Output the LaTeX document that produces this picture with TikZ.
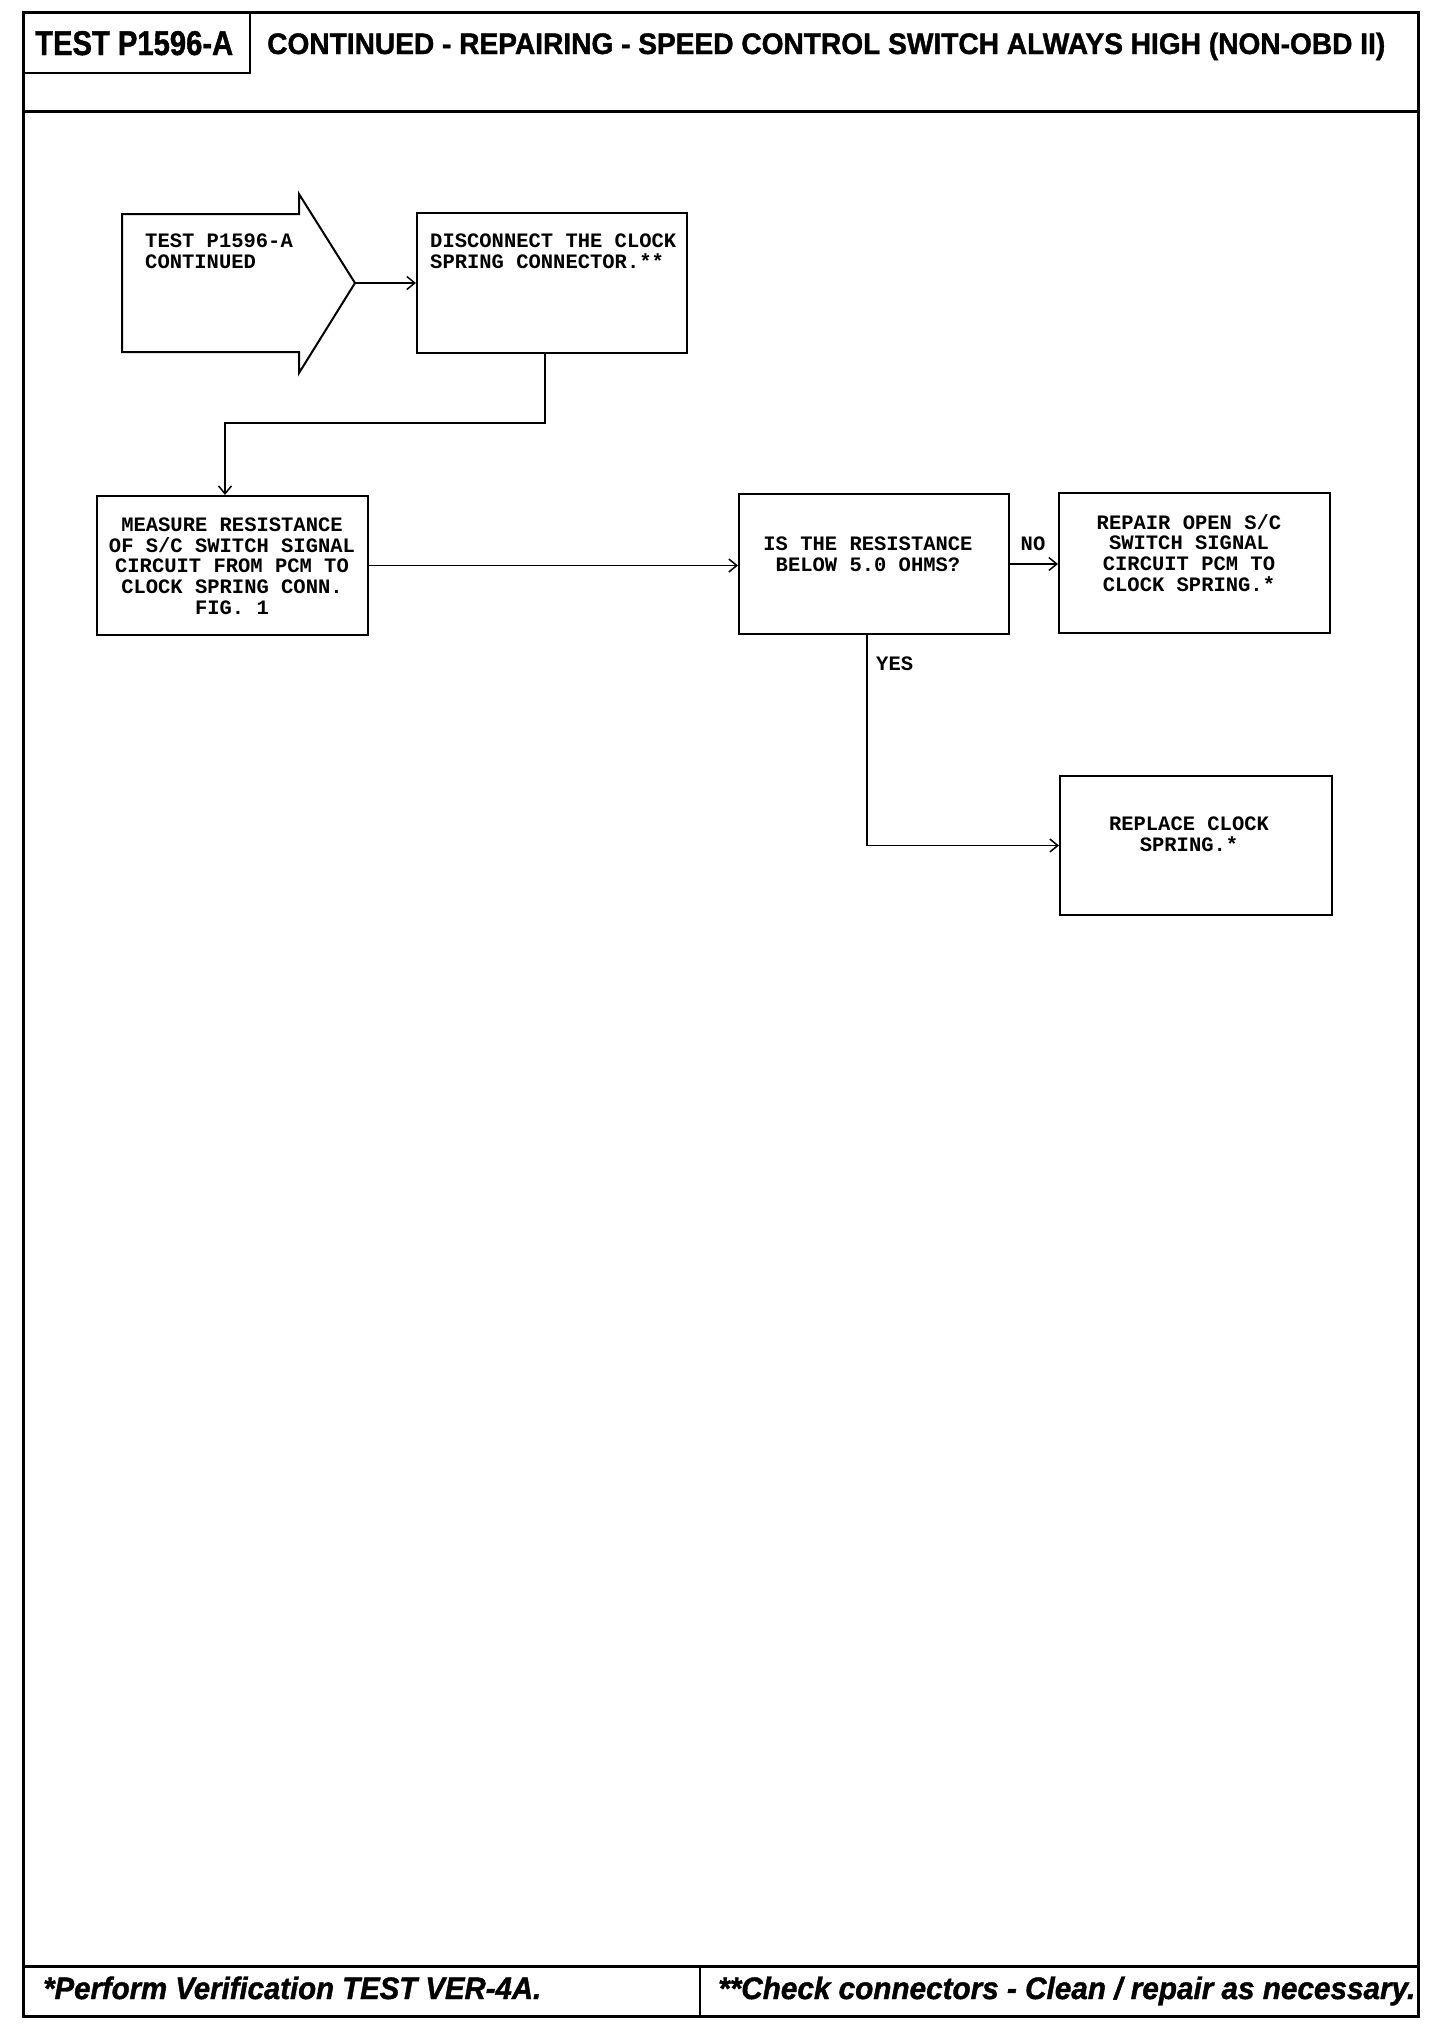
\documentclass[tikz,border=0pt]{standalone}
\usepackage{fontspec}
\usepackage{graphicx}
\newfontfamily\hdrblack{Liberation Sans Bold}[FakeBold=1.3]
\newfontfamily\ftrblack{Liberation Sans Bold Italic}[FakeBold=1.3]
\newfontfamily\courfont{Liberation Mono}
\usetikzlibrary{arrows.meta,calc}
\begin{document}
\begin{tikzpicture}[x=1pt,y=-1pt,
  frameline/.style={line width=3pt},
  box/.style={draw, rectangle, line width=2pt, inner sep=0pt},
  conn/.style={line width=1.5pt, -{Straight Barb[length=8pt,width=13pt,line width=1.5pt]}},
  mtext/.style={font=\courfont\bfseries\fontsize{20.5}{20.7}\selectfont, inner sep=0pt},
  lbl/.style={font=\courfont\bfseries\fontsize{20.5}{20.7}\selectfont, inner sep=0pt},
  hdr/.style={inner sep=0pt, anchor=base west}
]
\useasboundingbox[fill=white] (0,0) rectangle (1456,2030);

% outer frame, header and footer
\draw[frameline] (23.5,12) rectangle (1418,2016.5);
\draw[frameline] (23.5,111) -- (1418,111);
\draw[line width=2.6pt] (250,12) -- (250,73) -- (23.5,73);
\draw[frameline] (23.5,1966.5) -- (1418,1966.5);
\draw[line width=2.6pt] (700,1966.5) -- (700,2016.5);

\node[hdr] (testid) at (35,55) {\resizebox{198pt}{24pt}{\hdrblack TEST P1596-A}};
\node[hdr] (title) at (267,54) {\resizebox{1118pt}{21.5pt}{\hdrblack CONTINUED - REPAIRING - SPEED CONTROL SWITCH ALWAYS HIGH (NON-OBD II)}};
\node[hdr] (foot1) at (43,1999) {\resizebox{498pt}{22.5pt}{\ftrblack *Perform Verification TEST VER-4A.}};
\node[hdr] (foot2) at (718,1999) {\resizebox{697pt}{22.5pt}{\ftrblack **Check connectors - Clean / repair as necessary.}};

% start arrow shape
\draw[line width=2pt, line join=miter] (122,214) -- (299,214) -- (299,194) -- (355,283) -- (299,373) -- (299,352) -- (122,352) -- cycle;
\coordinate (ctip) at (355,283);
\node[mtext, anchor=west, align=left] (starttxt) at (145,251) {TEST P1596-A\\CONTINUED};

% boxes
\node[box, minimum width=270pt, minimum height=140pt] (disc) at (552,283) {};
\node[mtext, anchor=west, align=left] (disctxt) at (430,251) {DISCONNECT THE CLOCK\\SPRING CONNECTOR.**};

\node[box, minimum width=271pt, minimum height=139pt] (meas) at (232.5,565.5) {};
\node[mtext, align=center] (meastxt) at (232,566) {MEASURE RESISTANCE\\OF S/C SWITCH SIGNAL\\CIRCUIT FROM PCM TO\\CLOCK SPRING CONN.\\FIG. 1};

\node[box, minimum width=270pt, minimum height=140pt] (dec) at (874,564) {};
\node[mtext, align=center] (dectxt) at (868,554) {IS THE RESISTANCE\\BELOW 5.0 OHMS?};

\node[box, minimum width=271pt, minimum height=140pt] (rep) at (1194.5,563) {};
\node[mtext, align=center] (reptxt) at (1189,553) {REPAIR OPEN S/C\\SWITCH SIGNAL\\CIRCUIT PCM TO\\CLOCK SPRING.*};

\node[box, minimum width=272pt, minimum height=139pt] (repl) at (1196,845.5) {};
\node[mtext, align=center] (repltxt) at (1189,834.5) {REPLACE CLOCK\\SPRING.*};

% connectors
\draw[conn] (ctip) -- (ctip -| disc.west);
\draw[conn] ([xshift=-7pt]disc.south) -- ++(0,69) -| ([xshift=-7.5pt]meas.north);
\draw[conn] (meas.east) -- (meas.east -| dec.west);
\draw[conn] (dec.east) -- (dec.east -| rep.west);
\draw[conn] ([xshift=-7pt]dec.south) |- (repl.west);

% labels
\node[lbl] (nolbl) at (1033,544) {NO};
\node[lbl, anchor=west] (yeslbl) at (876,664) {YES};
\end{tikzpicture}
\end{document}
